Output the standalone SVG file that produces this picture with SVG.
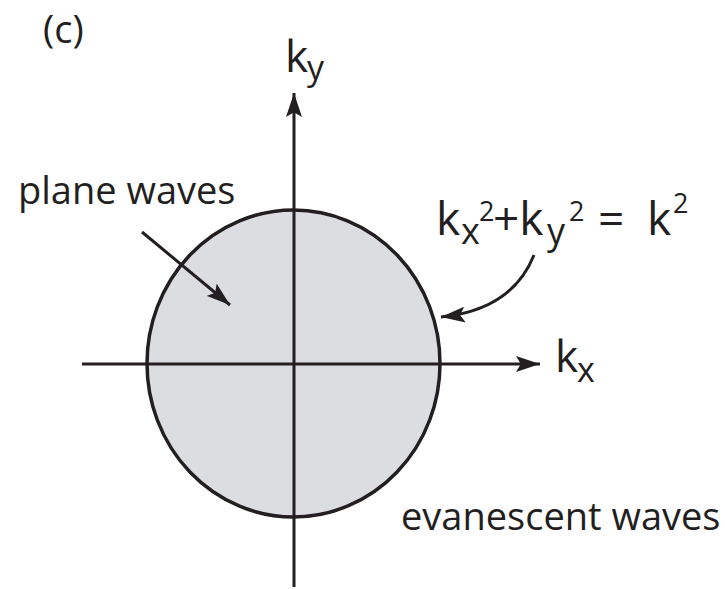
<svg xmlns="http://www.w3.org/2000/svg" width="725" height="589" viewBox="0 0 725 589">
<style>
text{font-family:"Open Sans","Noto Sans",sans-serif;fill:#231f20;font-size:38px}
.ax{stroke:#231f20;stroke-width:3;fill:none}
.k{font-size:44px}
.sub{font-size:34px}
.fk{font-size:46px}
.fs{font-size:36px}
.sup{font-size:27px}
</style>
<defs>
<marker id="big" viewBox="0 0 10 10" refX="10" refY="5" markerWidth="24" markerHeight="16" markerUnits="userSpaceOnUse" orient="auto" preserveAspectRatio="none">
<path d="M0,0 L10,5 L0,10 L2,5 Z" fill="#231f20"/>
</marker>
</defs>
<g id="disk">
<ellipse cx="293.5" cy="363.5" rx="146.5" ry="153.5" fill="#dcdde0" stroke="#231f20" stroke-width="3.5"/>
</g>
<g id="connectors">
<line class="ax" x1="82" y1="364" x2="540" y2="364" marker-end="url(#big)"/>
<line class="ax" x1="294" y1="587" x2="294" y2="93" marker-end="url(#big)"/>
<line class="ax" x1="142" y1="232" x2="230" y2="305" stroke-width="2.5" marker-end="url(#big)"/>
<path class="ax" d="M534,255 Q512,310 441,317" stroke-width="2.5" marker-end="url(#big)"/>
</g>
<g id="labels">
<text x="43" y="43">(c)</text>
<text class="k" x="285" y="72">k<tspan class="sub" x="307" y="80">y</tspan></text>
<text class="k" x="555" y="372">k<tspan class="sub" x="577" y="382">x</tspan></text>
<text x="18" y="204">plane waves</text>
<text x="401" y="530">evanescent waves</text>
<text class="fk" x="436" y="235">k<tspan class="fs" x="461" y="244">x</tspan><tspan class="sup" x="479" y="221">2</tspan><tspan x="493" y="235">+k</tspan><tspan class="fs" x="547" y="244">y</tspan><tspan class="sup" x="569" y="221">2</tspan><tspan x="598" y="235">=</tspan><tspan x="647" y="235">k</tspan><tspan class="sup" x="673" y="213">2</tspan></text>
</g>
</svg>
